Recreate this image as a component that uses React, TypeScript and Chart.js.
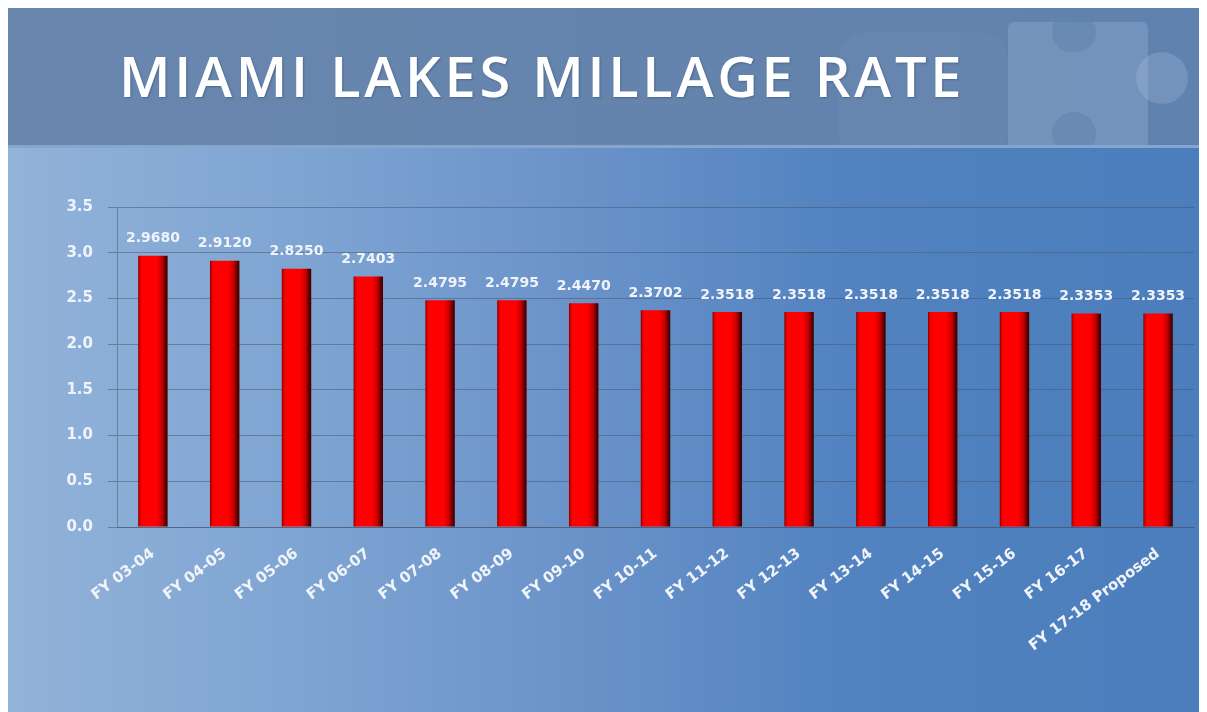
import React, { useEffect, useRef } from "react";
import { Chart, registerables } from "chart.js";

Chart.register(...registerables);

const categories = [
  "FY 03-04", "FY 04-05", "FY 05-06", "FY 06-07", "FY 07-08",
  "FY 08-09", "FY 09-10", "FY 10-11", "FY 11-12", "FY 12-13",
  "FY 13-14", "FY 14-15", "FY 15-16", "FY 16-17", "FY 17-18 Proposed",
];
const millageRates = [
  2.968, 2.912, 2.825, 2.7403, 2.4795,
  2.4795, 2.447, 2.3702, 2.3518, 2.3518,
  2.3518, 2.3518, 2.3518, 2.3353, 2.3353,
];
const valueLabels = [
  "2.9680", "2.9120", "2.8250", "2.7403", "2.4795",
  "2.4795", "2.4470", "2.3702", "2.3518", "2.3518",
  "2.3518", "2.3518", "2.3518", "2.3353", "2.3353",
];
const yTickLabels = ["0.0", "0.5", "1.0", "1.5", "2.0", "2.5", "3.0", "3.5"];

const TITLE = "MIAMI LAKES MILLAGE RATE";
const BAR_FRACTION = 0.41;
const FONT = "'DejaVu Sans', Verdana, sans-serif";
const TEXT_COLOR = "#f0f4fa";
const GRID_COLOR = "rgba(70, 82, 105, 0.5)";

const valueLabelPlugin = {
  id: "valueLabels",
  afterDatasetsDraw(chart: any) {
    const ctx = chart.ctx;
    const meta = chart.getDatasetMeta(0);
    ctx.save();
    ctx.font = `bold 14px ${FONT}`;
    ctx.fillStyle = TEXT_COLOR;
    ctx.textAlign = "center";
    ctx.textBaseline = "bottom";
    meta.data.forEach((el: any, i: number) => {
      ctx.fillText(valueLabels[i], el.x, el.y - 10);
    });
    ctx.restore();
  },
};

function barGradient(c: any) {
  const chart = c.chart;
  const xs = chart.scales && chart.scales.x;
  if (!xs || c.type !== "data" || !xs.width) return "#ff0000";
  const cx = xs.getPixelForValue(c.dataIndex);
  const w = (xs.width / categories.length) * BAR_FRACTION;
  const g = chart.ctx.createLinearGradient(cx - w / 2, 0, cx + w / 2, 0);
  g.addColorStop(0, "#7a0000");
  g.addColorStop(0.06, "#e00000");
  g.addColorStop(0.14, "#ff0000");
  g.addColorStop(0.62, "#ff0000");
  g.addColorStop(0.8, "#c80000");
  g.addColorStop(0.94, "#5a0000");
  g.addColorStop(1, "#3a0000");
  return g;
}

function MillageChart() {
  const ref = useRef<HTMLCanvasElement | null>(null);
  useEffect(() => {
    if (!ref.current) return;
    const chart = new Chart(ref.current, {
      type: "bar",
      data: {
        labels: categories,
        datasets: [
          {
            data: millageRates,
            backgroundColor: barGradient as any,
            borderWidth: 0,
            barPercentage: BAR_FRACTION,
            categoryPercentage: 1,
          },
        ],
      },
      options: {
        responsive: false,
        animation: false,
        layout: { padding: { top: 59, left: 0, right: 5, bottom: 0 } },
        plugins: {
          legend: { display: false },
          tooltip: { enabled: false },
          title: { display: false },
        },
        scales: {
          x: {
            grid: { display: false },
            border: { display: true, color: GRID_COLOR, width: 1 },
            ticks: {
              color: TEXT_COLOR,
              font: { family: FONT, size: 15, weight: "bold" },
              minRotation: 37,
              maxRotation: 37,
              autoSkip: false,
              padding: 10,
            },
            afterFit: (s: any) => {
              s.height = 185;
            },
          },
          y: {
            min: 0,
            max: 3.5,
            grid: { color: GRID_COLOR, lineWidth: 1, tickLength: 9, drawTicks: true },
            border: { display: true, color: GRID_COLOR, width: 1 },
            ticks: {
              stepSize: 0.5,
              color: TEXT_COLOR,
              padding: 15,
              font: { family: FONT, size: 15, weight: "bold" },
              callback: (_v: any, i: number) => yTickLabels[i],
            },
            afterFit: (s: any) => {
              s.width = 109;
            },
          },
        },
      },
      plugins: [valueLabelPlugin],
    });
    return () => chart.destroy();
  }, []);
  return <canvas ref={ref} width={1191} height={564} style={{ display: "block" }} />;
}

const piece = "rgba(175, 198, 228, 0.26)";
const bannerBg = "#6183ae";

export default function App() {
  return (
    <div
      style={{
        position: "relative",
        width: 1191,
        height: 704,
        overflow: "hidden",
        background:
          "linear-gradient(to right, #92b3d9 0%, #7ea4d2 25%, #6891c8 50%, #5283c0 70%, #4c7dbc 100%)",
      }}
    >
      <div
        style={{
          position: "absolute",
          left: 0,
          top: 0,
          width: "100%",
          height: 137,
          background: "linear-gradient(to right, #6987ae 0%, #6584ad 50%, #5f82ae 100%)",
          borderBottom: "3px solid rgba(140, 172, 212, 0.85)",
          overflow: "hidden",
        }}
      >
        <div style={{ position: "absolute", left: 830, top: 24, width: 170, height: 126, borderRadius: 30, background: "rgba(140, 165, 200, 0.1)" }} />
        <div style={{ position: "absolute", left: 1000, top: 14, width: 140, height: 140, borderRadius: 6, background: piece }} />
        <div style={{ position: "absolute", left: 1128, top: 44, width: 52, height: 52, borderRadius: 26, background: piece }} />
        <div style={{ position: "absolute", left: 1044, top: 4, width: 44, height: 40, borderRadius: 22, background: bannerBg, opacity: 0.6 }} />
        <div style={{ position: "absolute", left: 1044, top: 104, width: 44, height: 44, borderRadius: 22, background: bannerBg, opacity: 0.6 }} />
        <div
          style={{
            position: "absolute",
            left: 111,
            top: 32,
            fontFamily: "'Open Sans', sans-serif",
            fontSize: 56,
            fontWeight: 600,
            letterSpacing: 3.7,
            lineHeight: "70px",
            color: "#ffffff",
            whiteSpace: "nowrap",
            textShadow: "1px 1px 2px rgba(40,60,90,0.4)",
          }}
        >
          {TITLE}
        </div>
      </div>
      <div style={{ position: "absolute", left: 0, top: 140 }}>
        <MillageChart />
      </div>
    </div>
  );
}
